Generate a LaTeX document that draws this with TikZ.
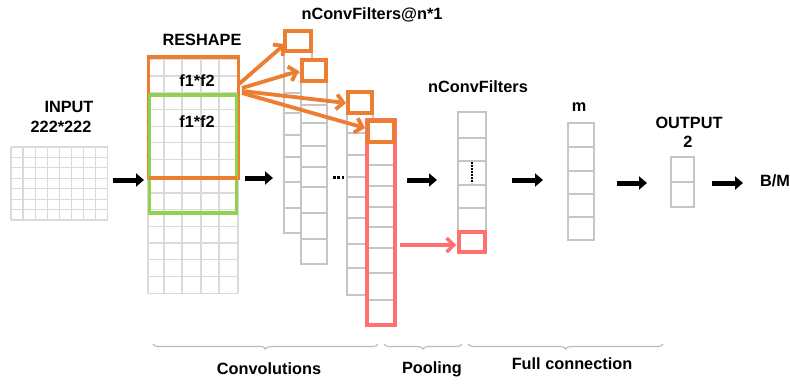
\documentclass[tikz,border=0pt]{standalone}
\usepackage{fontspec}
\setmainfont{Liberation Sans}
\usetikzlibrary{arrows.meta,decorations.pathreplacing}
\definecolor{ora}{HTML}{ED7D31}
\definecolor{grn}{HTML}{92D050}
\definecolor{sal}{HTML}{FF7171}
\definecolor{gline}{HTML}{C6C6C6}
\definecolor{lgrid}{HTML}{DADADA}
\definecolor{brc}{HTML}{BBBBBB}
\begin{document}
\begin{tikzpicture}[x=1pt,y=-1pt,
  lbl/.style={font=\fontsize{16.3}{19}\selectfont\bfseries, inner sep=0pt, anchor=base},
  blk/.style={line width=5pt,-{Triangle[length=8pt,width=13pt]}},
  oarr/.style={ora,line width=3.8pt,-{Straight Barb[length=7pt,width=15pt]}},
  sarr/.style={sal,line width=3.5pt,-{Straight Barb[length=7pt,width=14pt]}},
  gcol/.style={gline,line width=1.1pt,fill=white},
  gl/.style={gline,line width=1.1pt},
  obox/.style={ora,line width=3.3pt},
  rbox/.style={sal,line width=3.3pt},
  brace/.style={brc,line width=1.1pt,decorate,decoration={brace,mirror,amplitude=5pt}}]
\useasboundingbox (0,0) rectangle (790,383);

% ---------- labels ----------
\node[lbl] (tin) at (69,112) {INPUT};
\node[lbl] (tin2) at (61,132) {222*222};
\node[lbl] (tres) at (202,45) {RESHAPE};
\node[lbl] (tncf) at (372,19) {nConvFilters@n*1};
\node[lbl] (tpool) at (478,92) {nConvFilters};
\node[lbl] (tm) at (579,111) {m};
\node[lbl] (tout) at (689,128) {OUTPUT};
\node[lbl] (tout2) at (688,147) {2};
\node[lbl] (tbm) at (775,186) {B/M};

% ---------- input grid ----------
\foreach \i in {0,...,8} \draw[lgrid,line width=1.2pt] ({11+\i*12.09},147) -- ({11+\i*12.09},220);
\foreach \j in {0,...,7} \draw[lgrid,line width=1.2pt] (11,{147+\j*10.43}) -- (108,{147+\j*10.43});

% ---------- reshape grid ----------
\foreach \x in {148,164,182,201,219,238} \draw[lgrid,line width=1.2pt] (\x,57) -- (\x,293);
\foreach \j in {0,...,14} \draw[lgrid,line width=1.2pt] (148,{59.3+\j*16.7}) -- (238,{59.3+\j*16.7});
\draw[obox] (148.3,57) rectangle (238.5,178);
\draw[grn,line width=3.3pt] (149.3,95) rectangle (236.5,213);
\draw[obox] (149.3,178) -- (236.5,178);
\node[lbl] (f1) at (197,86) {f1*f2};
\node[lbl] (f2) at (197,127) {f1*f2};

% ---------- convolution columns ----------
\draw[gcol] (284,52) rectangle (312,233);
\foreach \y in {73,93,113,135,157,182,208} \draw[gl] (284,\y) -- (312,\y);
\draw[gcol] (301,82) rectangle (327,264);
\foreach \y in {105,123,146,167,187,213,239} \draw[gl] (301,\y) -- (327,\y);
\draw[gcol] (347,113) rectangle (373,295);
\foreach \y in {133,155,177,197,218,244,268} \draw[gl] (347,\y) -- (373,\y);
\draw[fill=white,draw=none] (367,120) rectangle (395,325);
\foreach \y in {165,186,207,227,248,273,300} \draw[gl] (367,\y) -- (395,\y);
\draw[rbox] (367,120) rectangle (395,325);

\draw[obox,fill=white] (285,31) rectangle (311,51);
\draw[obox,fill=white] (302,60) rectangle (326,81);
\draw[obox,fill=white] (348,92) rectangle (372,113);
\draw[obox] (368,121) rectangle (394,142);

\foreach \x in {334.3,338.6,342.9} \fill (\x-1.4,176.2) rectangle (\x+1.4,179);

% ---------- pooling column ----------
\draw[gcol] (458,112) rectangle (486,253);
\foreach \y in {138,161,185,208} \draw[gl] (458,\y) -- (486,\y);
\draw[rbox] (459,232) rectangle (485,252);
\draw[dash pattern=on 1.6pt off 1.4pt,line width=1.8pt] (472,162) -- (472,183);

% ---------- full connection ----------
\draw[gcol] (568,123) rectangle (594,240);
\foreach \y in {147,171,194,217} \draw[gl] (568,\y) -- (594,\y);
\draw[gcol] (671,157) rectangle (694,207);
\draw[gl] (671,182) -- (694,182);

% ---------- connectors ----------
\coordinate (o1s) at (239,84);  \coordinate (o1e) at (285,44);
\coordinate (o2s) at (242,88);  \coordinate (o2e) at (299,71);
\coordinate (o3s) at (242,91);  \coordinate (o3e) at (346,103);
\coordinate (o4s) at (242,93);  \coordinate (o4e) at (365,128);
\draw[oarr] (o1s) -- (o1e);
\draw[oarr] (o2s) -- (o2e);
\draw[oarr] (o3s) -- (o3e);
\draw[oarr] (o4s) -- (o4e);

\coordinate (rs) at (400,245); \coordinate (re) at (456,245);
\draw[sarr] (rs) -- (re);

\coordinate (a1s) at (113,180); \coordinate (a1e) at (144,180);
\coordinate (a2s) at (245,178); \coordinate (a2e) at (273,178);
\coordinate (a3s) at (407,180); \coordinate (a3e) at (437,180);
\coordinate (a4s) at (512,180); \coordinate (a4e) at (543,180);
\coordinate (a5s) at (617,183); \coordinate (a5e) at (647,183);
\coordinate (a6s) at (712,183); \coordinate (a6e) at (743,183);
\foreach \k in {1,...,6} \draw[blk] (a\k s) -- (a\k e);

% ---------- braces ----------
\coordinate (b1s) at (153,344); \coordinate (b1e) at (378,344);
\coordinate (b2s) at (384,344); \coordinate (b2e) at (462,344);
\coordinate (b3s) at (468,344); \coordinate (b3e) at (663,344);
\draw[brace] (b1s) -- (b1e);
\draw[brace] (b2s) -- (b2e);
\draw[brace] (b3s) -- (b3e);
\node[lbl] (tconv) at (269,374) {Convolutions};
\node[lbl] (tpl) at (432,373) {Pooling};
\node[lbl] (tfc) at (572,369) {Full connection};
\end{tikzpicture}
\end{document}
